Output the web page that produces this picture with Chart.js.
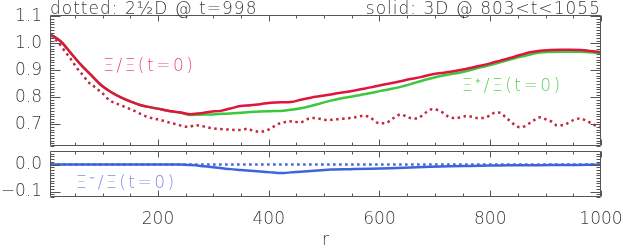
<!DOCTYPE html>
<html><head><meta charset="utf-8">
<script src="https://cdn.jsdelivr.net/npm/chart.js@4.4.1/dist/chart.umd.min.js"></script>
<style>
html,body{margin:0;padding:0;background:#fff;}
#w{position:relative;width:623px;height:248px;overflow:hidden;background:#fff;}
#c1{position:absolute;left:0;top:0;}
#c2{position:absolute;left:0;top:148px;}
</style></head><body>
<div id="w"><canvas id="c1" width="623" height="150"></canvas><canvas id="c2" width="623" height="100"></canvas></div>
<script>
// ---- data ----
const r3D = [7,25,43,61,79,97,115,133,151,169,187,205,223,241,259,277,295,313,331,349,367,385,404,422,440,458,476,494,512,530,548,566,584,602,620,638,656,674,692,710,728,746,764,782,800,818,836,854,872,890,908,926,944,962,980,1000];
const xiTotal = [1.032,1.006,0.963,0.920,0.883,0.846,0.820,0.800,0.784,0.771,0.763,0.756,0.749,0.744,0.738,0.741,0.747,0.750,0.759,0.768,0.771,0.775,0.780,0.782,0.783,0.791,0.799,0.805,0.811,0.817,0.823,0.830,0.837,0.845,0.852,0.860,0.868,0.875,0.884,0.890,0.895,0.901,0.909,0.917,0.926,0.936,0.946,0.957,0.967,0.973,0.975,0.976,0.976,0.975,0.972,0.967];
const xiPlus = [1.032,1.006,0.963,0.920,0.883,0.846,0.820,0.800,0.784,0.771,0.763,0.756,0.749,0.743,0.735,0.736,0.737,0.739,0.740,0.743,0.746,0.748,0.749,0.750,0.754,0.760,0.768,0.778,0.788,0.796,0.802,0.809,0.816,0.824,0.831,0.839,0.849,0.860,0.870,0.879,0.886,0.892,0.901,0.911,0.920,0.930,0.940,0.950,0.959,0.966,0.968,0.969,0.969,0.969,0.967,0.963];
const rMinus = [7,100,200,240,259,277,295,313,331,349,367,385,404,416,428,440,458,476,494,512,548,584,620,656,692,728,764,800,836,872,908,944,980,1000];
const xiMinus = [0.000,0.000,0.000,0.000,-0.002,-0.005,-0.009,-0.013,-0.017,-0.020,-0.023,-0.026,-0.029,-0.031,-0.031,-0.029,-0.027,-0.024,-0.021,-0.018,-0.017,-0.016,-0.014,-0.011,-0.008,-0.006,-0.005,-0.004,-0.003,-0.003,-0.002,-0.002,-0.001,0.000];
const r2D = [7,20,33,46,52,67,73,82,88,97,112,133,154,181,205,226,256,268,299,326,350,362,370,382,394,404,413,422,434,443,455,464,473,485,497,506,518,530,539,551,560,572,581,590,599,611,620,629,638,647,659,668,677,686,695,707,716,725,734,746,758,767,776,788,800,809,818,827,836,845,854,863,872,881,890,899,911,920,932,941,950,962,971,983,995,1000];
const xi2D = [1.030,1.003,0.968,0.932,0.913,0.876,0.858,0.846,0.833,0.821,0.790,0.771,0.753,0.728,0.716,0.704,0.691,0.697,0.685,0.681,0.679,0.684,0.678,0.673,0.676,0.685,0.697,0.706,0.710,0.712,0.707,0.712,0.722,0.724,0.718,0.716,0.718,0.720,0.722,0.724,0.728,0.732,0.728,0.716,0.704,0.704,0.716,0.728,0.737,0.731,0.722,0.722,0.733,0.747,0.756,0.752,0.741,0.728,0.724,0.726,0.731,0.728,0.724,0.724,0.734,0.744,0.743,0.728,0.712,0.697,0.689,0.694,0.706,0.718,0.726,0.720,0.710,0.697,0.697,0.706,0.716,0.722,0.716,0.704,0.691,0.690];
const r2Dminus = [7,100,200,300,400,500,600,700,800,900,1000];
const xi2Dminus = [0,0,0,0,0,0,0,0,0,0,0];
const xTickLabels = [200,400,600,800,1000];
const yTicksTop = [0.7,0.8,0.9,1.0,1.1];
const yTicksBottom = [-0.1,0.0];
const titleLeft = 'dotted: 2½D @ t=998';
const titleRight = 'solid: 3D @ 803<t<1055';
const labelTotal = 'Ξ/Ξ(t=0)';
const labelPlus = 'Ξ⁺/Ξ(t=0)';
const labelMinus = 'Ξ⁻/Ξ(t=0)';

// ---- styling ----
const FAM = "'DejaVu Sans', sans-serif";
const WT = 200;
const TXT = '#3a3a3a';
const RED = '#e0143c', GREEN = '#3cc83c', DRED = '#c0283c', BLUE = '#3c64dc';
const pts = (xs, ys) => xs.map((v, i) => ({x: v, y: ys[i]}));

const decor = {
  id: 'decor',
  afterDatasetsDraw(chart, args, opts) {
    const {ctx, chartArea: a} = chart;
    const x = chart.scales.x, y = chart.scales.y;
    ctx.save();
    ctx.strokeStyle = '#555'; ctx.lineWidth = 1;
    const L = Math.round(a.left) + 0.5, R = Math.round(a.right) - 0.5, T = Math.round(a.top) + 0.5, B = Math.round(a.bottom) - 0.5;
    ctx.beginPath();
    ctx.rect(L, T, R - L, B - T);
    const k0 = Math.ceil(y.min * 100 - 1e-6), k1 = Math.floor(y.max * 100 + 1e-6);
    for (let k = k0; k <= k1; k++) {
      const py = Math.round(y.getPixelForValue(k / 100)) + 0.5;
      const len = (k % 10 === 0) ? 10 : 4;
      ctx.moveTo(L, py); ctx.lineTo(L + len, py);
      ctx.moveTo(R, py); ctx.lineTo(R - len, py);
    }
    const j0 = Math.ceil(x.min / 50), j1 = Math.floor(x.max / 50);
    for (let j = j0; j <= j1; j++) {
      const px = Math.round(x.getPixelForValue(j * 50)) + 0.5;
      const len = (j % 4 === 0) ? 6 : 3;
      ctx.moveTo(px, T); ctx.lineTo(px, T + len);
      ctx.moveTo(px, B); ctx.lineTo(px, B - len);
    }
    ctx.stroke();
    (opts.texts || []).forEach(t => {
      ctx.font = WT + ' 17px ' + FAM;
      ctx.fillStyle = t.color;
      ctx.letterSpacing = t.ls || '0px';
      ctx.textAlign = t.align || 'left';
      ctx.textBaseline = 'alphabetic';
      let px, py;
      if (t.edge === 'left') { px = a.left; py = t.py; }
      else if (t.edge === 'right') { px = a.right; py = t.py; }
      else { px = x.getPixelForValue(t.x); py = y.getPixelForValue(t.y); }
      ctx.fillText(t.text, px, py);
    });
    ctx.restore();
  }
};

function noPad(s) { s.paddingTop = 0; s.paddingBottom = 0; s.paddingLeft = 0; s.paddingRight = 0; }

function yScale(min, max, ticks, fmt) {
  return {
    type: 'linear', min, max,
    afterFit: s => { s.width = 50; noPad(s); },
    afterBuildTicks: s => { s.ticks = ticks.map(v => ({value: v})); },
    grid: {display: false, drawTicks: false},
    border: {display: false},
    ticks: {color: TXT, padding: 8, font: {family: FAM, size: 17, weight: WT}, callback: fmt}
  };
}
const fmt1 = v => (v < 0 ? '\u2212' + Math.abs(v).toFixed(1) : v.toFixed(1));

const common = {
  responsive: false, animation: false,
  plugins: {legend: {display: false}, tooltip: {enabled: false}},
  elements: {point: {radius: 0}, line: {borderWidth: 2.5, cubicInterpolationMode: 'monotone'}}
};

new Chart(document.getElementById('c1'), {
  type: 'scatter',
  data: {datasets: [
    {data: pts(r3D, xiTotal), showLine: true, borderColor: RED},
    {data: pts(r3D, xiPlus), showLine: true, borderColor: GREEN},
    {data: pts(r2D, xi2D), showLine: true, borderColor: DRED, borderDash: [2.5, 3.5]}
  ]},
  options: Object.assign({}, common, {
    layout: {padding: {left: 0, right: 22, top: 15, bottom: 4}},
    scales: {
      x: {type: 'linear', min: 5, max: 1000, display: false},
      y: yScale(0.62, 1.105, yTicksTop, fmt1)
    },
    plugins: Object.assign({}, common.plugins, {decor: {texts: [
      {text: titleLeft, edge: 'left', py: 14, color: TXT, ls: '1px'},
      {text: titleRight, edge: 'right', py: 14, color: TXT, align: 'right', ls: '1px'},
      {text: labelTotal, x: 101, y: 0.897, color: '#e8506e', ls: '2.5px'},
      {text: labelPlus, x: 749, y: 0.823, color: '#5ad25a', ls: '2.5px'}
    ]}})
  }),
  plugins: [decor]
});

new Chart(document.getElementById('c2'), {
  type: 'scatter',
  data: {datasets: [
    {data: pts(rMinus, xiMinus), showLine: true, borderColor: BLUE},
    {data: pts(r2Dminus, xi2Dminus), showLine: true, borderColor: BLUE, borderDash: [2.5, 3.5]}
  ]},
  options: Object.assign({}, common, {
    layout: {padding: {left: 0, right: 22, top: 3, bottom: 0}},
    scales: {
      x: {
        type: 'linear', min: 5, max: 1000,
        afterFit: s => { s.height = 51; noPad(s); },
        afterBuildTicks: s => { s.ticks = xTickLabels.map(v => ({value: v})); },
        grid: {display: false, drawTicks: false},
        border: {display: false},
        ticks: {color: TXT, padding: 12, maxRotation: 0, autoSkip: false, font: {family: FAM, size: 17, weight: WT}, callback: v => String(v)},
        title: {display: true, text: 'r', color: TXT, padding: {top: 0, bottom: -3}, font: {family: FAM, size: 17, weight: WT}}
      },
      y: yScale(-0.12, 0.05, yTicksBottom, fmt1)
    },
    plugins: Object.assign({}, common.plugins, {decor: {texts: [
      {text: labelMinus, x: 52, y: -0.086, color: '#7890e6', ls: '2.5px'}
    ]}})
  }),
  plugins: [decor]
});
</script>
</body></html>
